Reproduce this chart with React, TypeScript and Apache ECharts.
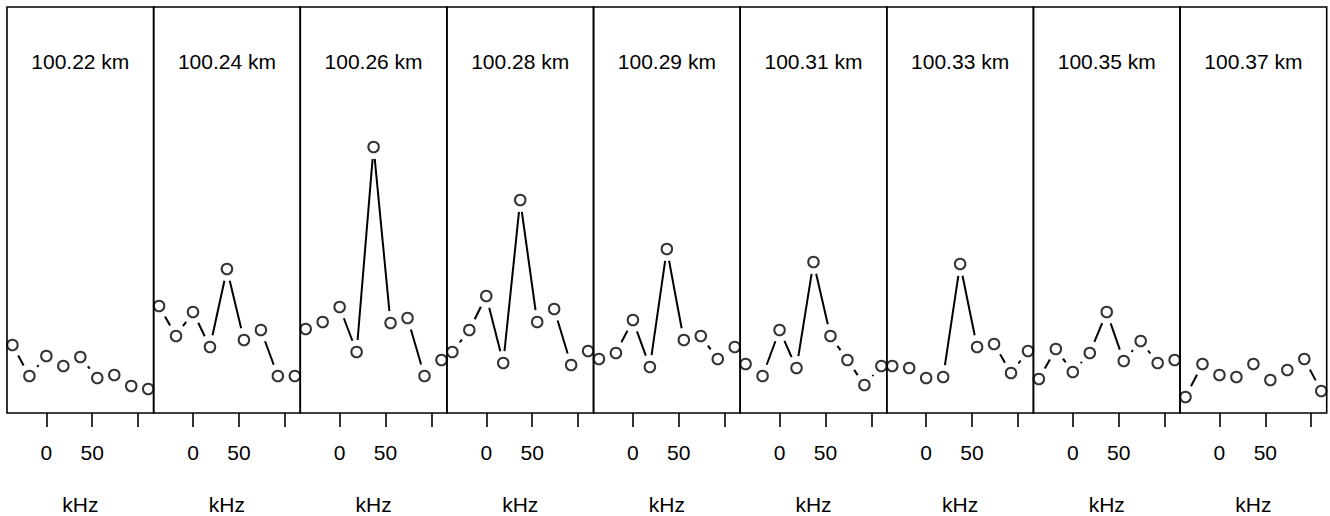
import React, { useEffect, useRef } from "react";
import * as echarts from "echarts";

// Panel titles (altitude)
const panelTitles = [
  "100.22 km", "100.24 km", "100.26 km", "100.28 km", "100.29 km",
  "100.31 km", "100.33 km", "100.35 km", "100.37 km",
];

// Frequency offsets (kHz) shared by every panel
const freqKHz = [-37, -18.5, 0, 18.5, 37, 55.5, 74, 92.5, 111];

// Amplitude per panel (arbitrary units)
const amp1 = [68, 37, 57, 47, 56, 35, 38, 27, 24];
const amp2 = [107, 77, 101, 66, 144, 73, 83, 37, 37];
const amp3 = [84, 91, 106, 61, 266, 90, 95, 37, 53];
const amp4 = [61, 83, 117, 50, 213, 91, 104, 48, 62];
const amp5 = [54, 60, 93, 46, 164, 73, 77, 54, 66];
const amp6 = [49, 37, 83, 45, 151, 77, 53, 28, 47];
const amp7 = [47, 45, 35, 36, 149, 66, 69, 40, 62];
const amp8 = [34, 64, 41, 60, 101, 52, 72, 50, 53];
const amp9 = [16, 49, 38, 36, 49, 33, 43, 54, 22];
const panelAmps = [amp1, amp2, amp3, amp4, amp5, amp6, amp7, amp8, amp9];

// Axis ticks / labels
const xTickValues = [0, 50, 100];
const xLabelValues = [0, 50];
const xUnit = "kHz";
const xMin = -42.92;
const xMax = 116.92;
const yMin = 0;
const yMax = 406;

const FONT = "'Liberation Sans', Arial, Helvetica, sans-serif";

export default function App() {
  const ref = useRef<HTMLDivElement>(null);

  useEffect(() => {
    if (!ref.current) return;
    const chart = echarts.init(ref.current, null, { renderer: "svg" });

    const n = panelTitles.length;
    const left0 = 7;
    const totalW = 1326.7 - 7;
    const pw = totalW / n;
    const top = 7;
    const height = 406;
    const GAP = 12;

    const grids: any[] = [];
    const xAxes: any[] = [];
    const yAxes: any[] = [];
    const series: any[] = [];
    const graphics: any[] = [];

    for (let i = 0; i < n; i++) {
      const left = left0 + i * pw;
      grids.push({
        left,
        top,
        width: pw,
        height,
        show: true,
        borderColor: "#000",
        borderWidth: 1.6,
        backgroundColor: "transparent",
        containLabel: false,
      });
      xAxes.push({
        type: "value",
        gridIndex: i,
        min: xMin,
        max: xMax,
        axisLine: { show: false },
        splitLine: { show: false },
        axisTick: {
          show: true,
          customValues: xTickValues,
          length: 14,
          lineStyle: { color: "#000", width: 1.6 },
        },
        axisLabel: {
          show: true,
          customValues: xLabelValues,
          fontSize: 21,
          color: "#000",
          fontFamily: FONT,
          margin: 29,
        },
      });
      yAxes.push({
        type: "value",
        gridIndex: i,
        min: yMin,
        max: yMax,
        show: false,
        splitLine: { show: false },
      });

      const amps = panelAmps[i];
      const pts = freqKHz.map((f, k) => [f, amps[k]]);
      const segs: number[][] = [];
      for (let k = 0; k < pts.length - 1; k++) {
        segs.push([pts[k][0], pts[k][1], pts[k + 1][0], pts[k + 1][1]]);
      }

      series.push({
        type: "custom",
        xAxisIndex: i,
        yAxisIndex: i,
        data: segs,
        clip: false,
        silent: true,
        renderItem: (params: any, api: any) => {
          const a = api.coord([api.value(0), api.value(1)]);
          const b = api.coord([api.value(2), api.value(3)]);
          const dx = b[0] - a[0];
          const dy = b[1] - a[1];
          const len = Math.sqrt(dx * dx + dy * dy);
          if (len <= 2 * GAP) return { type: "group", children: [] };
          const ux = dx / len;
          const uy = dy / len;
          return {
            type: "line",
            shape: {
              x1: a[0] + ux * GAP,
              y1: a[1] + uy * GAP,
              x2: b[0] - ux * GAP,
              y2: b[1] - uy * GAP,
            },
            style: { stroke: "#000", lineWidth: 2, fill: null },
          };
        },
      });
      series.push({
        type: "scatter",
        xAxisIndex: i,
        yAxisIndex: i,
        data: pts,
        symbol: "circle",
        symbolSize: 10.5,
        clip: false,
        silent: true,
        itemStyle: {
          color: "rgba(0,0,0,0)",
          borderColor: "#000",
          borderWidth: 2,
        },
      });

      const cx = left + pw / 2;
      graphics.push({
        type: "text",
        x: cx,
        y: 61,
        silent: true,
        style: {
          text: panelTitles[i],
          fontSize: 21,
          fontFamily: FONT,
          fill: "#000",
          align: "center",
          verticalAlign: "middle",
          textAlign: "center",
          textVerticalAlign: "middle",
        },
      });
      graphics.push({
        type: "text",
        x: cx,
        y: 504,
        silent: true,
        style: {
          text: xUnit,
          fontSize: 21,
          fontFamily: FONT,
          fill: "#000",
          align: "center",
          verticalAlign: "middle",
          textAlign: "center",
          textVerticalAlign: "middle",
        },
      });
    }

    chart.setOption({
      animation: false,
      backgroundColor: "#fff",
      textStyle: { fontFamily: FONT },
      grid: grids,
      xAxis: xAxes,
      yAxis: yAxes,
      series,
      graphic: graphics,
    });

    return () => chart.dispose();
  }, []);

  return (
    <div
      ref={ref}
      style={{ position: "absolute", left: 0, top: 0, width: 1330, height: 516 }}
    />
  );
}
